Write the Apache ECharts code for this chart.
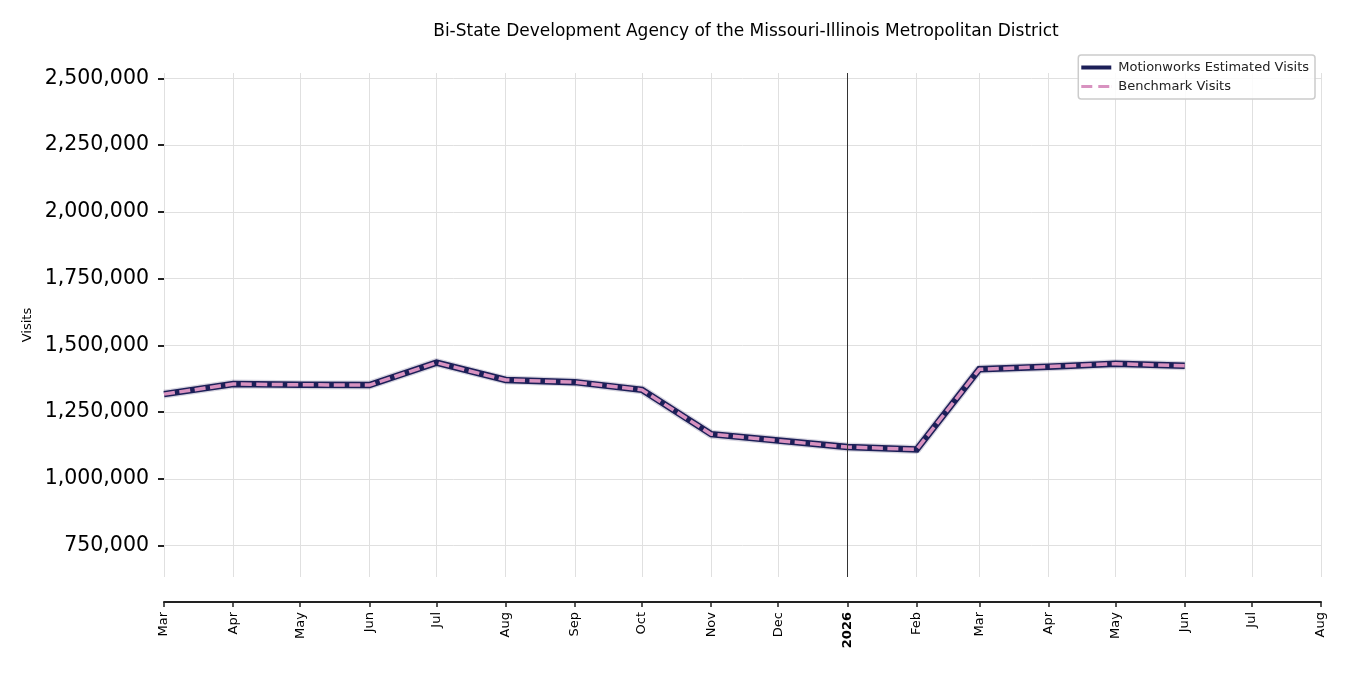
<!DOCTYPE html>
<html lang="en" style="height: 100%">
  <head>
    <meta charset="utf-8" />
  </head>
  <body style="height: 100%; margin: 0; overflow: hidden; background: #fff">
    <div id="container" style="width: 1350px; height: 675px"></div>
    <script type="text/javascript" src="https://cdn.jsdelivr.net/npm/echarts@6/dist/echarts.min.js"></script>
    <script type="text/javascript">
      // month starts of the observed data
      const months = [
        '2025-03', '2025-04', '2025-05', '2025-06', '2025-07', '2025-08', '2025-09', '2025-10',
        '2025-11', '2025-12', '2026-01', '2026-02', '2026-03', '2026-04', '2026-05', '2026-06',
      ]
      const estimatedVisits = [
        1317000, 1355000, 1352000, 1351000, 1435000, 1370000, 1362000, 1333000,
        1167000, 1143000, 1119000, 1110000, 1410000, 1420000, 1431000, 1423000,
      ]
      const benchmarkVisits = [
        1317000, 1355000, 1352000, 1351000, 1435000, 1370000, 1362000, 1333000,
        1167000, 1143000, 1119000, 1110000, 1410000, 1420000, 1431000, 1423000,
      ]
      const tickMonths = [
        '2025-03', '2025-04', '2025-05', '2025-06', '2025-07', '2025-08', '2025-09', '2025-10',
        '2025-11', '2025-12', '2026-01', '2026-02', '2026-03', '2026-04', '2026-05', '2026-06',
        '2026-07', '2026-08',
      ]
      const yTicks = [750000, 1000000, 1250000, 1500000, 1750000, 2000000, 2250000, 2500000]
      const yMin = 632000
      const yMax = 2520000
      const yearMarker = '2026-01'

      const monthNames = ['Jan', 'Feb', 'Mar', 'Apr', 'May', 'Jun', 'Jul', 'Aug', 'Sep', 'Oct', 'Nov', 'Dec']
      const toTime = (s) => {
        const [y, m] = s.split('-').map(Number)
        return Date.UTC(y, m - 1, 1)
      }
      const tickTimes = tickMonths.map(toTime)
      const font = 'DejaVu Sans'
      const navy = '#1c1f58'
      const pink = '#d892c0'

      const dom = document.getElementById('container')
      const myChart = echarts.init(dom, null, { renderer: 'canvas' })

      const option = {
        backgroundColor: '#fff',
        animation: false,
        textStyle: { fontFamily: font },
        title: {
          text: 'Bi-State Development Agency of the Missouri-Illinois Metropolitan District',
          left: 741,
          textAlign: 'center',
          top: 18,
          textStyle: { fontFamily: font, fontSize: 17, fontWeight: 'normal', color: '#000' },
        },
        legend: {
          data: [
            { name: 'Motionworks Estimated Visits', icon: 'path://M0,0H30V4H0Z' },
            { name: 'Benchmark Visits', icon: 'path://M0,0.5H11V3.5H0Z M17,0.5H28V3.5H17Z M29.9,0.5H30V3.5H29.9Z' },
          ],
          orient: 'vertical',
          right: 35,
          top: 55,
          padding: [6, 6, 6, 3],
          itemGap: 6,
          itemWidth: 30,
          itemHeight: 4,
          borderColor: '#ccc',
          borderWidth: 1.5,
          borderRadius: 3,
          backgroundColor: 'rgba(255,255,255,0.85)',
          textStyle: { fontFamily: font, fontSize: 13, color: '#222', padding: [0, 0, 0, 2] },
        },
        grid: { left: 164, right: 29, top: 73, bottom: 98 },
        xAxis: {
          type: 'value',
          min: tickTimes[0],
          max: tickTimes[tickTimes.length - 1],
          offset: 25,
          axisLine: { show: true, lineStyle: { color: '#222', width: 2 } },
          axisTick: { show: true, customValues: tickTimes, length: 5, lineStyle: { color: '#222', width: 1.5 } },
          axisLabel: {
            customValues: tickTimes,
            rotate: 90,
            margin: 10,
            fontFamily: font,
            fontSize: 13,
            color: '#000',
            formatter: (v) => {
              const d = new Date(v)
              if (d.getUTCMonth() === 0) return '{b|' + d.getUTCFullYear() + '}'
              return monthNames[d.getUTCMonth()]
            },
            rich: { b: { fontFamily: font, fontSize: 13, fontWeight: 'bold', color: '#000' } },
          },
          splitLine: { show: true, lineStyle: { color: '#e0e0e0', width: 1 } },
        },
        yAxis: {
          type: 'value',
          min: yMin,
          max: yMax,
          name: 'Visits',
          nameLocation: 'middle',
          nameGap: 128,
          nameTextStyle: { fontFamily: font, fontSize: 13, color: '#000' },
          axisLine: { show: false },
          axisTick: { show: true, customValues: yTicks, length: 6, lineStyle: { color: '#222', width: 2 } },
          axisLabel: {
            customValues: yTicks,
            margin: 15,
            fontFamily: font,
            fontSize: 20.5,
            color: '#000',
            formatter: (v) => v.toLocaleString('en-US'),
          },
          splitLine: { show: true, lineStyle: { color: '#e0e0e0', width: 1 } },
        },
        series: [
          {
            name: 'halo',
            type: 'line',
            data: months.map((m, i) => [toTime(m), estimatedVisits[i]]),
            symbol: 'none',
            silent: true,
            lineStyle: { color: 'rgba(70,60,110,0.22)', width: 9 },
            z: 1,
          },
          {
            name: 'Motionworks Estimated Visits',
            type: 'line',
            data: months.map((m, i) => [toTime(m), estimatedVisits[i]]),
            symbol: 'none',
            lineStyle: { color: navy, width: 6.5, cap: 'butt', join: 'miter' },
            itemStyle: { color: navy },
            z: 2,
            markLine: {
              silent: true,
              symbol: 'none',
              label: { show: false },
              lineStyle: { color: '#333', width: 1, type: 'solid' },
              data: [{ xAxis: toTime(yearMarker) }],
            },
          },
          {
            name: 'Benchmark Visits',
            type: 'line',
            data: months.map((m, i) => [toTime(m), benchmarkVisits[i]]),
            symbol: 'none',
            lineStyle: { color: pink, width: 3.5, type: [11, 4.5], cap: 'butt' },
            itemStyle: { color: pink },
            z: 3,
          },
        ],
      }

      myChart.setOption(option)
      window.addEventListener('resize', myChart.resize)
    </script>
  </body>
</html>
